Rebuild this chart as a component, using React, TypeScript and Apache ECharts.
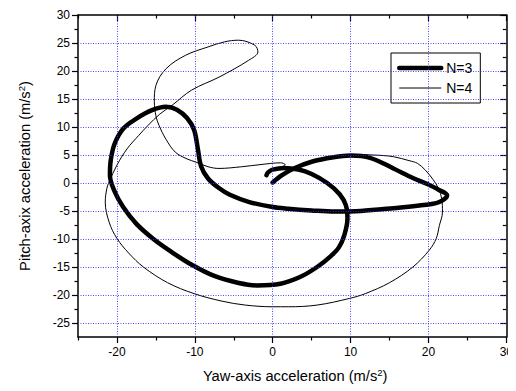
import React, { useEffect, useRef } from "react";
import * as echarts from "echarts";

// N=3 trajectory (yaw, pitch) in m/s^2
const n3Yaw = [0, 1.2, 2.7, 5, 7.8, 10, 12.5, 15.5, 18, 19.7, 21.3, 22.4, 21.4, 19.7, 15.5, 11.3, 8, 5, 2, 0, -3, -5.5, -7, -8.3, -9.2, -9.6, -10.1, -11, -12.3, -13.7, -15.5, -17.5, -19.2, -20.3, -20.8, -20.9, -20.3, -19.2, -17.5, -15.4, -13, -10.4, -7.5, -4.5, -2, 1, 3.5, 5.7, 7.5, 8.5, 9.2, 9.6, 9.4, 8.6, 7, 5, 3.3, 1.5, 0, -0.6, -0.8];
const n3Pitch = [0.1, 1.4, 2.6, 3.8, 4.6, 4.9, 4.5, 2.6, 0.9, -0.1, -1.2, -2.2, -3.4, -3.9, -4.5, -5.0, -5.1, -4.9, -4.6, -4.3, -3.4, -2.1, -0.8, 0.8, 3, 6, 9.5, 11.6, 13.1, 13.6, 13, 11.5, 9.7, 7, 4, 1.4, -1.5, -4.3, -7.3, -9.9, -12.3, -14.6, -16.6, -17.8, -18.3, -18, -16.8, -15, -13, -11.5, -9.3, -6.4, -4, -2, 0, 1.6, 2.4, 2.7, 2.4, 1.9, 1.4];

// N=4 trajectory (yaw, pitch) in m/s^2
const n4Yaw = [0, 1.2, 2.7, 5, 7.8, 10.4, 12.9, 14.2, 15.5, 17.5, 18.6, 19.6, 20.6, 21.3, 21.7, 21.8, 21.4, 21, 20.1, 18, 15, 11.9, 9.9, 5.7, 2, 0, -3.5, -6.5, -10.1, -13.5, -16.6, -18.5, -20, -21, -21.5, -21.3, -21, -20, -18.7, -17.2, -16, -14.5, -12.9, -10.4, -6.9, -3.1, -1.9, -2.3, -4.4, -6.2, -8.3, -11.2, -13.7, -15, -15.2, -15, -14.6, -13.7, -12.5, -11, -9.9, -8.3, -6.9, -4, -1.5, 1, 1.6, 1.2, 0.5];
const n4Pitch = [0.1, 1.4, 2.6, 3.8, 4.7, 5.1, 5.0, 4.9, 4.7, 4.0, 3.5, 2.3, 0.6, -1, -2.8, -5.2, -7.6, -9.9, -12, -15, -17.8, -19.75, -20.6, -21.8, -22.1, -22.1, -21.8, -21.1, -19.75, -17.8, -15, -12.5, -9.9, -7, -3.4, -1, 0.2, 3.2, 6.1, 8.5, 10.3, 12.3, 13.9, 16.6, 18.9, 21.9, 23.4, 24.6, 25.5, 25.2, 24.3, 22.8, 20.4, 17.4, 14.5, 12, 10.3, 7.8, 5.5, 4.3, 3.75, 2.9, 2.6, 2.9, 3.3, 3.6, 3.3, 2.9, 2.7];

const seriesNames = ["N=3", "N=4"];
const seriesWidths = [4.5, 1];

const xMajorTicks = [-20, -10, 0, 10, 20, 30];
const xMinorTicks = [-25, -15, -5, 5, 15, 25];
const yMajorTicks = [-25, -20, -15, -10, -5, 0, 5, 10, 15, 20, 25, 30];
const yMinorTicks = [-22.5, -17.5, -12.5, -7.5, -2.5, 2.5, 7.5, 12.5, 17.5, 22.5, 27.5];
const xGridLines = [-20, -10, 0, 10, 20];
const yGridLines = [-25, -20, -15, -10, -5, 0, 5, 10, 15, 20, 25];

const FONT = "'Liberation Sans', Arial, sans-serif";

function zip(a: number[], b: number[]) {
  return a.map((v, i) => [v, b[i]]);
}

export default function App() {
  const ref = useRef<HTMLDivElement>(null);
  useEffect(() => {
    if (!ref.current) return;
    const chart = echarts.init(ref.current, null, { renderer: "svg" });
    const xBase = { type: "value", min: -25, max: 30, interval: 5, splitLine: { show: false } };
    const yBase = { type: "value", min: -27.5, max: 30, interval: 2.5, splitLine: { show: false } };
    const lineAx = { show: true, onZero: false, lineStyle: { color: "#000", width: 1.5 } };
    const noLine = { show: false, onZero: false };
    const tickStyle = { color: "#000", width: 1.2 };
    const supStyle = { fontSize: 9.5, verticalAlign: "top", padding: [0, 0, 8, 0], fontFamily: FONT, color: "#000" };
    chart.setOption({
      animation: false,
      grid: { left: 63, right: 8, top: 7, bottom: 54 },
      textStyle: { fontFamily: FONT },
      legend: {
        data: seriesNames.map((n, i) => ({ name: n, lineStyle: { width: seriesWidths[i], color: "#000" } })),
        orient: "vertical",
        left: 383,
        top: 45,
        padding: [8, 8, 8, 6],
        itemGap: 6,
        itemWidth: 42,
        itemHeight: 14,
        borderColor: "#000",
        borderWidth: 1,
        borderRadius: 0,
        backgroundColor: "#fff",
        itemStyle: { color: "rgba(0,0,0,0)", borderWidth: 0 },
        textStyle: { fontSize: 14, color: "#000", fontFamily: FONT },
      },
      xAxis: [
        {
          ...xBase,
          position: "bottom",
          axisLine: lineAx,
          axisTick: { show: true, length: 6, customValues: xMajorTicks, lineStyle: tickStyle },
          axisLabel: { customValues: xMajorTicks, fontSize: 12, color: "#000", fontFamily: FONT, margin: 9 },
          name: "Yaw-axis acceleration (m/s{sup|2})",
          nameLocation: "middle",
          nameGap: 30,
          nameTextStyle: {
            fontSize: 14.7,
            color: "#000",
            fontFamily: FONT,
            padding: [0, 0, 0, 6],
            rich: { sup: supStyle },
          },
        },
        {
          ...xBase,
          position: "bottom",
          axisLine: noLine,
          axisTick: { show: true, length: 3.5, customValues: xMinorTicks, lineStyle: tickStyle },
          axisLabel: { show: false },
        },
        {
          ...xBase,
          position: "top",
          axisLine: lineAx,
          axisTick: { show: true, inside: true, length: 6, customValues: xMajorTicks, lineStyle: tickStyle },
          axisLabel: { show: false },
        },
        {
          ...xBase,
          position: "top",
          axisLine: noLine,
          axisTick: { show: true, inside: true, length: 3.5, customValues: xMinorTicks, lineStyle: tickStyle },
          axisLabel: { show: false },
        },
      ],
      yAxis: [
        {
          ...yBase,
          position: "left",
          axisLine: lineAx,
          axisTick: { show: true, length: 6, customValues: yMajorTicks, lineStyle: tickStyle },
          axisLabel: { customValues: yMajorTicks, fontSize: 12, color: "#000", fontFamily: FONT, margin: 8 },
          name: "Pitch-axix acceleration (m/s{sup|2})",
          nameLocation: "middle",
          nameGap: 44,
          nameTextStyle: {
            fontSize: 14.7,
            color: "#000",
            fontFamily: FONT,
            padding: [0, 0, 0, 0],
            rich: { sup: supStyle },
          },
        },
        {
          ...yBase,
          position: "left",
          axisLine: noLine,
          axisTick: { show: true, length: 3.5, customValues: yMinorTicks, lineStyle: tickStyle },
          axisLabel: { show: false },
        },
        {
          ...yBase,
          position: "right",
          axisLine: lineAx,
          axisTick: { show: true, inside: true, length: 6, customValues: yMajorTicks, lineStyle: tickStyle },
          axisLabel: { show: false },
        },
        {
          ...yBase,
          position: "right",
          axisLine: noLine,
          axisTick: { show: true, inside: true, length: 3.5, customValues: yMinorTicks, lineStyle: tickStyle },
          axisLabel: { show: false },
        },
      ],
      series: [
        {
          name: "grid",
          type: "line",
          data: [],
          xAxisIndex: 0,
          yAxisIndex: 0,
          z: 1,
          silent: true,
          markLine: {
            silent: true,
            symbol: ["none", "none"],
            label: { show: false },
            lineStyle: { color: "#2a2aff", type: [1, 1.5], width: 1, opacity: 0.85 },
            data: [
              ...xGridLines.map((v) => ({ xAxis: v })),
              ...yGridLines.map((v) => ({ yAxis: v })),
            ],
          },
        },
        {
          name: seriesNames[0],
          type: "line",
          xAxisIndex: 0,
          yAxisIndex: 0,
          z: 3,
          data: zip(n3Yaw, n3Pitch),
          showSymbol: false,
          symbol: "none",
          smooth: 0.35,
          lineStyle: { color: "#000", width: seriesWidths[0], cap: "round", join: "round" },
          itemStyle: { color: "rgba(0,0,0,0)" },
        },
        {
          name: seriesNames[1],
          type: "line",
          xAxisIndex: 0,
          yAxisIndex: 0,
          z: 3,
          data: zip(n4Yaw, n4Pitch),
          showSymbol: false,
          symbol: "none",
          smooth: 0.35,
          lineStyle: { color: "#000", width: seriesWidths[1], join: "round" },
          itemStyle: { color: "rgba(0,0,0,0)" },
        },
      ],
    });
    return () => chart.dispose();
  }, []);
  return <div ref={ref} style={{ width: 508, height: 383 }} />;
}
